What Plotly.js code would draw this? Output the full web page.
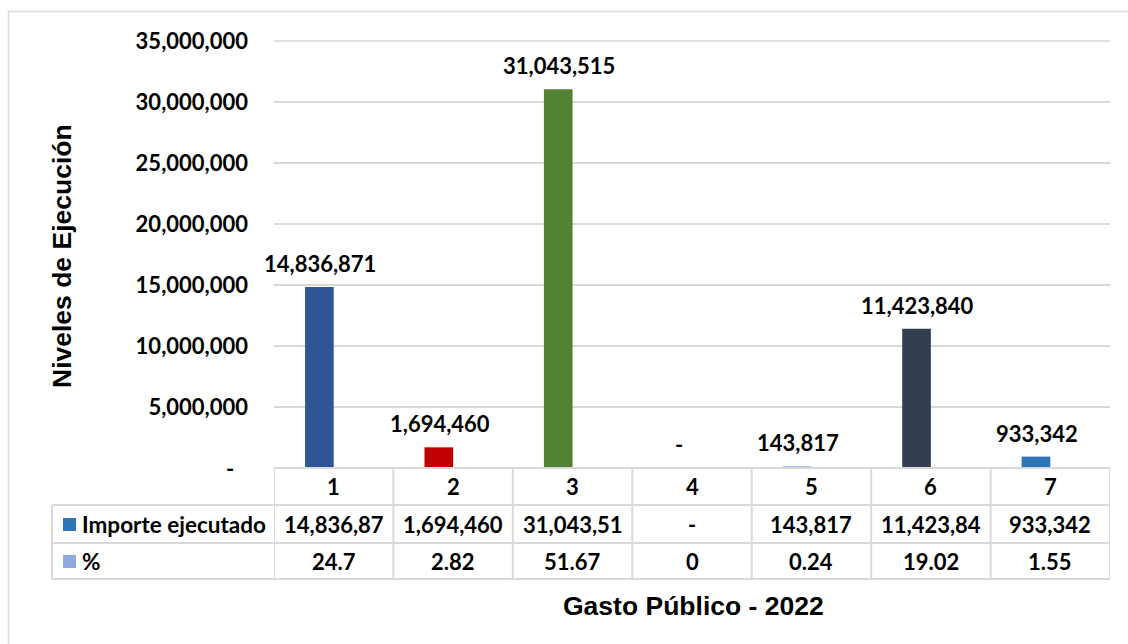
<!DOCTYPE html>
<html>
<head>
<meta charset="utf-8">
<script src="https://cdn.plot.ly/plotly-3.0.1.min.js"></script>
<style>html,body{margin:0;padding:0;background:#fff;}#chart{width:1128px;height:644px;}</style>
</head>
<body>
<div id="chart"></div>
<script>
// ---- data ----
const categories = [1, 2, 3, 4, 5, 6, 7];
const categoryLabels = ["1", "2", "3", "4", "5", "6", "7"];
const importe = [14836871, 1694460, 31043515, 0, 143817, 11423840, 933342];
const pct = [24.7, 2.82, 51.67, 0, 0.24, 19.02, 1.55];
const barColors = ["#2F5597", "#C00000", "#548235", "#A5A5A5", "#8FAADC", "#333F50", "#2E75B6"];
const yTickVals = [0, 5000000, 10000000, 15000000, 20000000, 25000000, 30000000, 35000000];
const seriesNames = ["Importe ejecutado", "%"];
const seriesKeyColors = ["#2E75B6", "#8FAADC"];
const xTitle = "Gasto Público - 2022";
const yTitle = "Niveles de Ejecución";

// ---- layout geometry ----
const W = 1128, H = 644;
const mL = 274, mR = 18, mT = 40, mB = 176;
const plotW = W - mL - mR, plotH = H - mT - mB;
const px2x = p => (p - mL) / plotW;           // pixel x -> paper x
const py2y = p => (H - mB - p) / plotH;        // pixel y -> paper y
const catW = plotW / categories.length;
const bargap = 0.52;
const barPx = catW * (1 - bargap) / 2;
const yTop = 35000000 * plotH / (plotH - 1);

const fmt = v => v === 0 ? "-" : v.toLocaleString("en-US");
const cellFmt = v => { const s = fmt(v); return s.length > 9 ? s.slice(0, 9) : s; };
const pctFmt = v => String(v);
const tickFmt = v => v === 0 ? "" : fmt(v);

const lato = {family: "Lato", size: 22, color: "#000", weight: 700};
const latoLbl = {family: "Lato", size: 22.5, color: "#000", weight: 700};
const arial = {family: "Arial", size: 26.5, color: "#000", weight: 700};

const traces = [
  {type: "bar", x: categories, y: importe, name: seriesNames[0],
   marker: {color: barColors}, hoverinfo: "skip"},
  {type: "bar", x: categories, y: pct, name: seriesNames[1],
   marker: {color: seriesKeyColors[1]}, hoverinfo: "skip"}
];

const shapes = [];
const annotations = [];
const grid = "#D9D9D9";

// outer chart border
shapes.push({type: "rect", xref: "paper", yref: "paper",
  x0: px2x(8.5), x1: px2x(1140), y0: py2y(660), y1: py2y(11.5),
  line: {color: grid, width: 1.5}, fillcolor: "rgba(0,0,0,0)", layer: "below"});
// top gridline (35,000,000)
shapes.push({type: "line", xref: "paper", yref: "y", x0: 0, x1: 1,
  y0: yTickVals[yTickVals.length - 1], y1: yTickVals[yTickVals.length - 1],
  line: {color: grid, width: 1.5}, layer: "below"});

// zero tick label ("-"), Excel places it a little left
annotations.push({x: px2x(236), xref: "paper", y: yTickVals[0], yref: "y", text: fmt(yTickVals[0]),
  showarrow: false, font: lato, xanchor: "right", yanchor: "middle"});

// table rows (pixel y)
const rowY = [468, 505, 543, 579];
const tableLeft = 52, tableRight = W - mR;
shapes.push({type: "line", xref: "paper", yref: "paper", x0: px2x(mL), x1: px2x(tableRight),
  y0: py2y(rowY[0]), y1: py2y(rowY[0]), line: {color: grid, width: 2}});
for (let r = 1; r < rowY.length; r++) {
  shapes.push({type: "line", xref: "paper", yref: "paper", x0: px2x(tableLeft), x1: px2x(tableRight),
    y0: py2y(rowY[r]), y1: py2y(rowY[r]), line: {color: grid, width: 2}});
}
shapes.push({type: "line", xref: "paper", yref: "paper", x0: px2x(tableLeft), x1: px2x(tableLeft),
  y0: py2y(rowY[1]), y1: py2y(rowY[3]), line: {color: grid, width: 2}});
for (let i = 0; i <= categories.length; i++) {
  const xv = categories[0] - 0.5 + i;
  shapes.push({type: "line", xref: "x", yref: "paper", x0: xv, x1: xv,
    y0: py2y(rowY[0]), y1: py2y(rowY[3]), line: {color: grid, width: 2}});
}

// table text
const rowCenters = [(rowY[0] + rowY[1]) / 2, (rowY[1] + rowY[2]) / 2, (rowY[2] + rowY[3]) / 2];
categories.forEach((c, i) => {
  annotations.push({x: c, xref: "x", yref: "paper", y: py2y(rowCenters[0]), text: categoryLabels[i],
    showarrow: false, font: lato, xanchor: "center", yanchor: "middle"});
  annotations.push({x: c, xref: "x", yref: "paper", y: py2y(rowCenters[1]), text: cellFmt(importe[i]),
    showarrow: false, font: lato, xanchor: "center", yanchor: "middle"});
  annotations.push({x: c, xref: "x", yref: "paper", y: py2y(rowCenters[2]), text: pctFmt(pct[i]),
    showarrow: false, font: lato, xanchor: "center", yanchor: "middle"});
});
seriesNames.forEach((n, r) => {
  const cy = rowCenters[r + 1];
  shapes.push({type: "rect", xref: "paper", yref: "paper", x0: px2x(63), x1: px2x(76),
    y0: py2y(cy + 7), y1: py2y(cy - 6), line: {width: 0}, fillcolor: seriesKeyColors[r]});
  annotations.push({x: px2x(80), xref: "paper", yref: "paper", y: py2y(cy), text: n,
    showarrow: false, font: latoLbl, xanchor: "left", yanchor: "middle"});
});

// bar data labels
categories.forEach((c, i) => {
  annotations.push({x: c, y: importe[i], xref: "x", yref: "y", text: fmt(importe[i]),
    showarrow: false, font: lato, xanchor: "center", yanchor: "bottom",
    xshift: -barPx / 2 + 1, yshift: 8});
});

// axis titles
annotations.push({x: px2x(62), y: py2y(256), xref: "paper", yref: "paper", text: yTitle,
  textangle: -90, showarrow: false, font: arial, xanchor: "center", yanchor: "middle"});
annotations.push({x: px2x(693), y: py2y(606), xref: "paper", yref: "paper", text: xTitle,
  showarrow: false, font: arial, xanchor: "center", yanchor: "middle"});

const layout = {
  width: W, height: H,
  margin: {l: mL, r: mR, t: mT, b: mB, pad: 0},
  paper_bgcolor: "#fff", plot_bgcolor: "#fff",
  showlegend: false,
  barmode: "group", bargap: bargap, bargroupgap: 0,
  xaxis: {range: [0.5, 7.5], showticklabels: false, showgrid: false, zeroline: false,
    showline: false, ticks: "", fixedrange: true},
  yaxis: {range: [0, yTop], tickvals: yTickVals, ticktext: yTickVals.map(tickFmt),
    showgrid: true, gridcolor: grid, gridwidth: 1.5, zeroline: false, showline: false,
    ticks: "", tickfont: lato, ticklabelstandoff: 25, fixedrange: true},
  shapes: shapes,
  annotations: annotations
};

Plotly.newPlot("chart", traces, layout, {displayModeBar: false, staticPlot: true});
</script>
</body>
</html>
